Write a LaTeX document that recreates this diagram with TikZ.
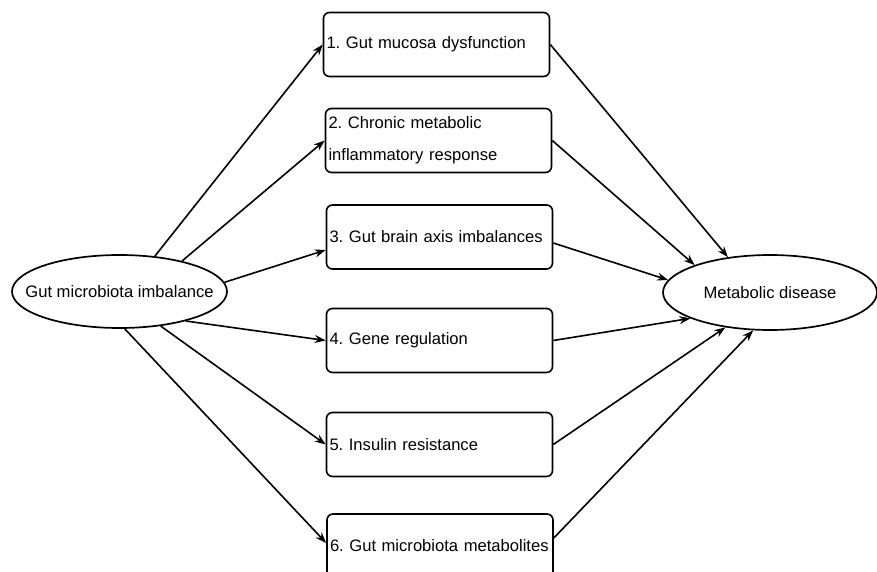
\documentclass[tikz,border=0pt]{standalone}
\usepackage{fontspec}
\setmainfont{Liberation Sans}
\usetikzlibrary{shapes.geometric,arrows.meta}
\frenchspacing

\tikzset{
  cause/.style={draw, rounded corners=6pt, line width=1.6pt, minimum width=226pt, minimum height=64pt,
                text width=220pt, inner xsep=3pt, align=left},
  oval/.style={ellipse, draw, line width=1.7pt, inner sep=0pt},
  link/.style={-{Stealth[length=11pt,width=8pt]}, line width=1.6pt}
}

\begin{document}
\begin{tikzpicture}[x=1pt,y=-1pt,font=\fontsize{16.6}{20}\selectfont]
            \useasboundingbox (0,0) rectangle (877,572);

            \node [oval,minimum width=215pt,minimum height=73pt,label=center:Gut microbiota imbalance] (gut) at (119.5,291.5) {};
            \node [oval,minimum width=214pt,minimum height=75pt,label=center:Metabolic disease] (dis) at (770,292.5) {};

            \node [cause] (c1) at (436.5,44.5) {1. Gut mucosa dysfunction};
            \node [cause] (c2) at (438.5,140.5) {2. Chronic metabolic\\[12pt]inflammatory response};
            \node [cause] (c3) at (439.5,237) {3. Gut brain axis imbalances};
            \node [cause] (c4) at (439.5,340.5) {4. Gene regulation};
            \node [cause] (c5) at (439.5,444.5) {5. Insulin resistance};
            \node [cause] (c6) at (440,546) {6. Gut microbiota metabolites};

            \draw[link] (gut.45) -- (c1.west);
            \draw[link] (gut.26) -- (c2.west);
            \draw[link] (gut.5) -- ([yshift=-13pt]c3.west);
            \draw[link] (gut.-24) -- (c4.west);
            \draw[link] (gut.-40) -- (c5.west);
            \draw[link] (gut.-82) -- ([yshift=3pt]c6.west);

            \draw[link] (c1.east) -- (dis.140);
            \draw[link] (c2.east) -- (dis.160);
            \draw[link] ([yshift=-6pt]c3.east) -- (dis.173);
            \draw[link] (c4.east) -- (dis.198);
            \draw[link] (c5.east) -- (dis.218);
            \draw[link] ([yshift=8pt]c6.east) -- (dis.246);

        \end{tikzpicture}
\end{document}
